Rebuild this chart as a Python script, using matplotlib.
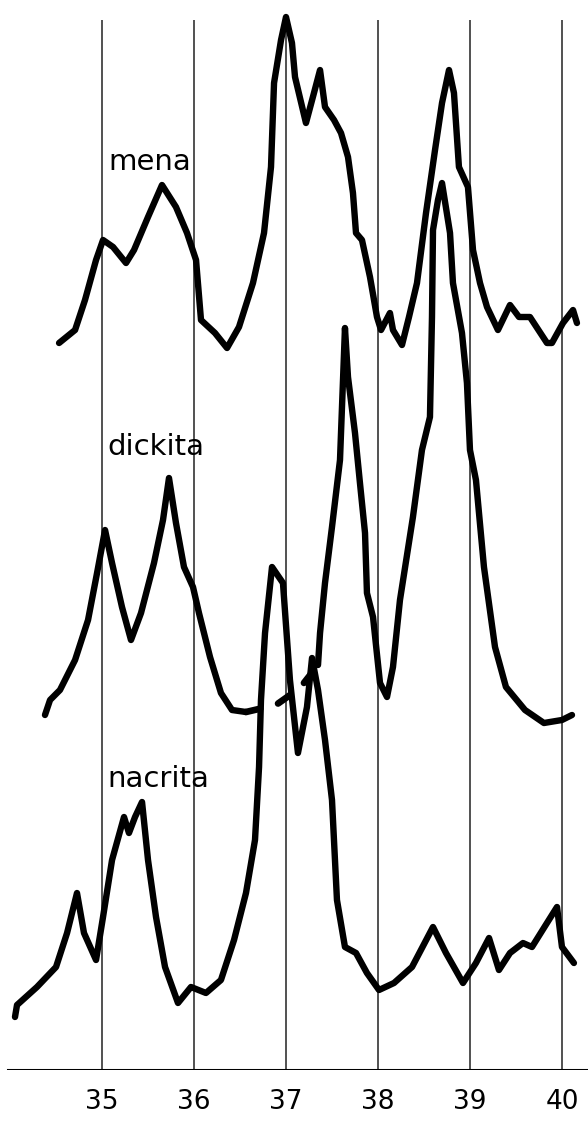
import matplotlib.pyplot as plt
import numpy as np

# Difractogramas de rayos X (2 theta) - mena, dickita y nacrita
mena_2t = [34.533, 34.707, 34.815, 34.935, 35.011, 35.120, 35.261, 35.348, 35.500, 35.652,
           35.804, 35.924, 36.022, 36.076, 36.228, 36.359, 36.489, 36.641, 36.761, 36.837,
           36.870, 36.946, 37.000, 37.065, 37.098, 37.217, 37.304, 37.370, 37.424, 37.522,
           37.598, 37.674, 37.728, 37.761, 37.826, 37.913, 37.989, 38.033, 38.130, 38.163,
           38.261, 38.337, 38.424, 38.522, 38.620, 38.696, 38.772, 38.826, 38.880, 38.978,
           39.033, 39.109, 39.185, 39.304, 39.435, 39.533, 39.652, 39.837, 39.891, 40.011,
           40.120, 40.163]
mena_int = [727, 740, 770, 810, 830, 823, 807, 820, 853, 885,
            863, 837, 810, 750, 737, 722, 743, 787, 837, 903,
            987, 1030, 1053, 1027, 993, 947, 977, 1000, 963, 950,
            937, 913, 877, 837, 830, 793, 753, 740, 757, 740,
            725, 753, 787, 857, 920, 967, 1000, 977, 903, 883,
            820, 787, 763, 740, 765, 753, 753, 727, 727, 747,
            760, 747]

dickita_2t_a = [34.380, 34.435, 34.543, 34.707, 34.848, 34.946, 35.033, 35.109, 35.217, 35.315,
                35.424, 35.565, 35.663, 35.728, 35.804, 35.891, 35.989, 36.054, 36.174, 36.293,
                36.413, 36.565]
dickita_int_a = [355, 370, 380, 410, 450, 497, 540, 507, 463, 430,
                 457, 507, 550, 592, 547, 503, 483, 457, 413, 377,
                 360, 358]
# tramo punteado
dickita_2t_gap = [36.565, 36.891, 37.152, 37.348]
dickita_int_gap = [358, 365, 382, 405]
dickita_2t_b = [37.348, 37.370, 37.424, 37.500, 37.587, 37.641, 37.674, 37.750, 37.804, 37.859,
                37.880, 37.946, 38.022, 38.098, 38.163, 38.239, 38.380, 38.478, 38.565, 38.587,
                38.598, 38.652, 38.696, 38.783, 38.815, 38.913, 38.967, 39.000, 39.065, 39.152,
                39.272, 39.391, 39.598, 39.804, 40.000, 40.109]
dickita_int_b = [405, 437, 487, 543, 610, 742, 693, 637, 587, 537,
                 477, 453, 387, 373, 403, 470, 553, 620, 653, 753,
                 840, 870, 887, 837, 787, 737, 687, 620, 590, 503,
                 423, 383, 360, 347, 350, 355]

nacrita_2t = [34.054, 34.076, 34.293, 34.500, 34.620, 34.728, 34.804, 34.935, 35.011, 35.109,
              35.239, 35.293, 35.359, 35.435, 35.500, 35.587, 35.685, 35.826, 35.967, 36.130,
              36.293, 36.435, 36.565, 36.663, 36.707, 36.728, 36.772, 36.848, 36.967, 37.043,
              37.130, 37.228, 37.283, 37.348, 37.424, 37.500, 37.554, 37.641, 37.761, 37.880,
              38.011, 38.174, 38.370, 38.598, 38.739, 38.924, 39.065, 39.207, 39.315, 39.435,
              39.576, 39.674, 39.837, 39.946, 40.000, 40.130]
nacrita_int = [53, 65, 83, 103, 137, 177, 137, 110, 153, 210,
               253, 237, 253, 268, 210, 153, 103, 67, 83, 77,
               90, 130, 177, 230, 303, 370, 437, 503, 487, 390,
               317, 363, 412, 380, 330, 270, 170, 123, 117, 97,
               80, 87, 103, 143, 117, 87, 107, 132, 100, 117,
               127, 123, 147, 163, 123, 107]

grados = [35, 36, 37, 38, 39, 40]
nombres = ['mena', 'dickita', 'nacrita']

fig = plt.figure(figsize=(5.88, 11.22), dpi=100)
ax = fig.add_axes([0, 1 - 1070 / 1122, 1, 1070 / 1122])
ax.set_xlim(33.891, 40.283)
ax.set_ylim(0, 1070)

# lineas de referencia verticales
ax.vlines(grados, 0, 1050, color='#222222', lw=1.1, zorder=1)

trazo = dict(color='black', lw=4.6, solid_capstyle='round', solid_joinstyle='round', zorder=3)
ax.plot(mena_2t, mena_int, **trazo)
ax.plot(dickita_2t_a, dickita_int_a, **trazo)
ax.plot(dickita_2t_b, dickita_int_b, **trazo)
ax.plot(dickita_2t_gap, dickita_int_gap, color='black', lw=4.8,
        linestyle=(0, (2.2, 2.8)), dash_capstyle='round', zorder=3)
ax.plot(nacrita_2t, nacrita_int, **trazo)

# nombres de las muestras
ax.text(35.065, 900, nombres[0], fontsize=21, va='baseline', ha='left')
ax.text(35.054, 615, nombres[1], fontsize=21, va='baseline', ha='left')
ax.text(35.054, 283, nombres[2], fontsize=21, va='baseline', ha='left')

for s in ['top', 'right', 'left', 'bottom']:
    ax.spines[s].set_visible(False)
ax.axhline(0, xmin=8 / 588, xmax=1, color='black', lw=2.2, zorder=2)
ax.set_yticks([])
ax.set_xticks(grados)
ax.set_xticklabels([str(g) for g in grados], fontsize=19)
ax.tick_params(axis='x', length=0, pad=14)

fig.savefig('out.png', dpi=100)
